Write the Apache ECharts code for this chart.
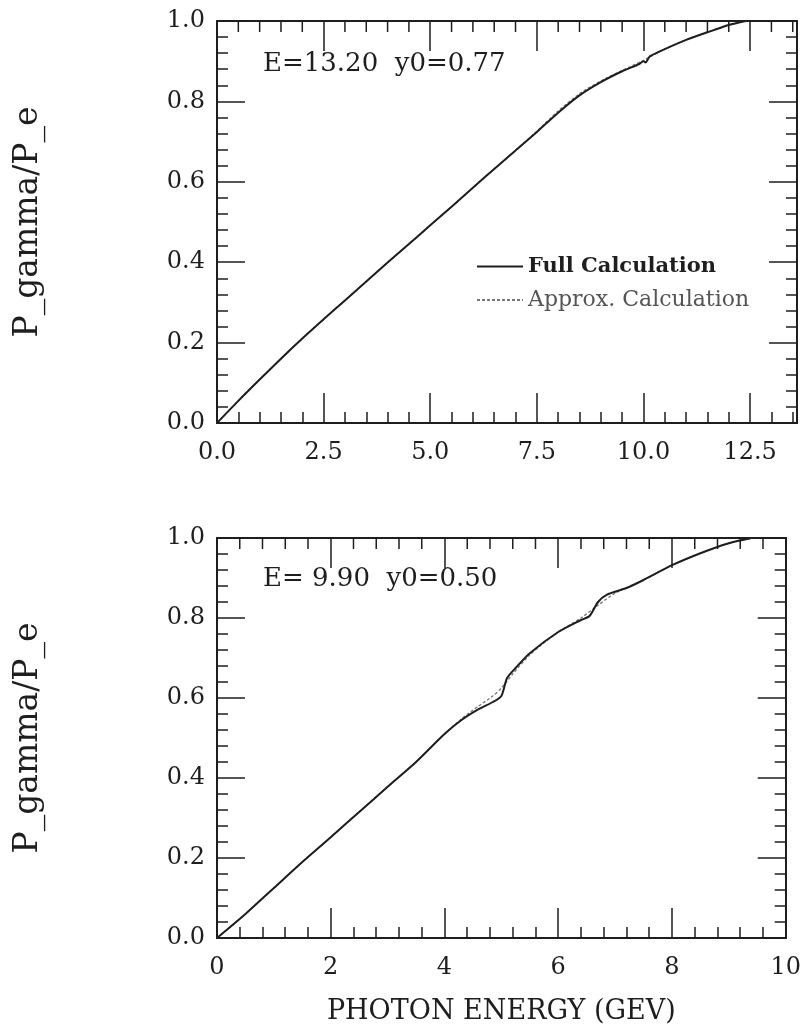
<!DOCTYPE html>
<html>
<head>
<meta charset="utf-8">
<title>P_gamma/P_e vs photon energy</title>
<script src="https://cdn.jsdelivr.net/npm/echarts@6/dist/echarts.min.js"></script>
<style>
    html, body { margin: 0; padding: 0; background: #ffffff; }
    #chart { width: 804px; height: 1030px; }
</style>
</head>
<body>
<div id="chart"></div>
<script>
// 上图: E=13.20, y0=0.77  [光子能量 GeV, P_gamma/P_e]
const topFull = [
    [0, 0], [0.5, 0.055], [1, 0.108], [1.5, 0.16], [2, 0.21], [2.5, 0.258],
    [3, 0.305], [3.5, 0.352], [4, 0.399], [4.5, 0.445], [5, 0.492], [5.5, 0.538],
    [6, 0.585], [6.5, 0.632], [7, 0.678], [7.5, 0.724], [8, 0.772], [8.5, 0.815],
    [9, 0.848], [9.5, 0.875], [9.9, 0.893], [10.0, 0.9], [10.05, 0.897],
    [10.15, 0.912], [10.5, 0.93], [11, 0.953], [11.5, 0.972], [12, 0.99], [12.4, 1.0]
];
const topApprox = [
    [0, 0], [0.5, 0.055], [1, 0.108], [1.5, 0.16], [2, 0.21], [2.5, 0.258],
    [3, 0.305], [3.5, 0.352], [4, 0.399], [4.5, 0.445], [5, 0.492], [5.5, 0.538],
    [6, 0.585], [6.5, 0.632], [7, 0.678], [7.5, 0.726], [8, 0.776], [8.5, 0.819],
    [9, 0.851], [9.5, 0.877], [10, 0.902], [10.5, 0.93], [11, 0.953],
    [11.5, 0.972], [12, 0.99], [12.4, 1.0]
];

// 下图: E=9.90, y0=0.50
const botFull = [
    [0, 0], [0.5, 0.06], [1, 0.125], [1.5, 0.19], [2, 0.252], [2.5, 0.315],
    [3, 0.378], [3.5, 0.44], [4, 0.51], [4.3, 0.545], [4.6, 0.572], [4.85, 0.59],
    [5.0, 0.605], [5.1, 0.65], [5.25, 0.675], [5.5, 0.712], [6, 0.765],
    [6.4, 0.795], [6.55, 0.805], [6.7, 0.84], [6.85, 0.858], [7.2, 0.875],
    [7.5, 0.895], [8, 0.932], [8.5, 0.962], [9, 0.987], [9.4, 1.0]
];
const botApprox = [
    [0, 0], [0.5, 0.06], [1, 0.125], [1.5, 0.19], [2, 0.252], [2.5, 0.315],
    [3, 0.378], [3.5, 0.44], [4, 0.51], [4.3, 0.548], [4.6, 0.58], [4.85, 0.605],
    [5.0, 0.625], [5.2, 0.66], [5.5, 0.708], [6, 0.765], [6.4, 0.8],
    [6.7, 0.832], [7.0, 0.862], [7.5, 0.895], [8, 0.932], [8.5, 0.962],
    [9, 0.987], [9.4, 1.0]
];

const topLabel = 'E=13.20  y0=0.77';
const botLabel = 'E= 9.90  y0=0.50';
const seriesNames = ['Full Calculation', 'Approx. Calculation'];
const yName = 'P_gamma/P_e';
const xName = 'PHOTON ENERGY (GEV)';

const FONT = 'DejaVu Serif';
const INK = '#1e1e1e';

function isMultiple(v, step) {
    const r = v / step;
    return Math.abs(r - Math.round(r)) < 1e-6;
}

// x轴刻度(刻度朝内), 标签只在 labelStep 的整数倍处显示
function xTicks(gridIndex, position, max, interval, tickLen, labelStep, digits) {
    return {
        type: 'value', gridIndex: gridIndex, position: position,
        min: 0, max: max, interval: interval,
        axisLine: { show: true, onZero: false, lineStyle: { color: INK, width: 2 } },
        axisTick: { show: true, inside: true, length: tickLen, lineStyle: { color: INK, width: 1.5 } },
        splitLine: { show: false },
        axisLabel: {
            show: true, margin: 18, color: INK, fontFamily: FONT, fontSize: 24,
            showMaxLabel: isMultiple(max, interval),
            formatter: v => (labelStep && isMultiple(v, labelStep)) ? v.toFixed(digits) : ''
        }
    };
}

function yAxisFor(gridIndex, position, labels) {
    return {
        type: 'value', gridIndex: gridIndex, position: position,
        min: 0, max: 1, interval: 0.2,
        name: labels ? yName : '',
        nameLocation: 'middle', nameGap: 172,
        nameTextStyle: { color: INK, fontFamily: FONT, fontSize: 33 },
        axisLine: { show: true, onZero: false, lineStyle: { color: INK, width: 2 } },
        axisTick: { show: true, inside: true, length: 28, lineStyle: { color: INK, width: 1.5 } },
        minorTick: { show: true, splitNumber: 5, length: 11, lineStyle: { color: INK, width: 1.5 } },
        splitLine: { show: false },
        axisLabel: {
            show: labels, margin: 12, color: INK, fontFamily: FONT, fontSize: 24,
            formatter: v => v.toFixed(1)
        }
    };
}

const botX = xTicks(1, 'bottom', 10, 2, 30, 2, 0);
botX.name = xName;
botX.nameLocation = 'middle';
botX.nameGap = 60;
botX.nameTextStyle = { color: INK, fontFamily: FONT, fontSize: 27 };

function fullSeries(x, y, data) {
    return {
        name: seriesNames[0], type: 'line', xAxisIndex: x, yAxisIndex: y,
        data: data, symbol: 'none', smooth: 0.25, z: 3,
        lineStyle: { color: INK, width: 2 }, itemStyle: { color: INK }
    };
}
function approxSeries(x, y, data) {
    return {
        name: seriesNames[1], type: 'line', xAxisIndex: x, yAxisIndex: y,
        data: data, symbol: 'none', smooth: 0.25, z: 2,
        lineStyle: { color: '#777777', width: 1.3, type: [3, 2] }, itemStyle: { color: '#777777' }
    };
}

const texts = [
    { type: 'text', left: 263, top: 51, style: { text: topLabel, fontFamily: FONT, fontSize: 26, fill: INK } },
    { type: 'text', left: 263, top: 566, style: { text: botLabel, fontFamily: FONT, fontSize: 26, fill: INK } }
];

const chart = echarts.init(document.getElementById('chart'), null, { renderer: 'canvas' });

chart.setOption({
    backgroundColor: '#ffffff',
    animation: false,
    grid: [
        { left: 217, top: 21, width: 580, height: 402 },
        { left: 217, top: 538, width: 577, height: 400 }
    ],
    xAxis: [
        xTicks(0, 'bottom', 13.6, 2.5, 30, 2.5, 1),  // 0
        xTicks(0, 'bottom', 13.6, 0.5, 11, 0, 0),    // 1
        xTicks(0, 'top', 13.6, 2.5, 30, 0, 0),       // 2
        botX,                                        // 3
        xTicks(1, 'bottom', 10, 0.4, 11, 0, 0),      // 4
        xTicks(1, 'top', 10, 2, 30, 0, 0)            // 5
    ],
    yAxis: [
        yAxisFor(0, 'left', true),
        yAxisFor(0, 'right', false),
        yAxisFor(1, 'left', true),
        yAxisFor(1, 'right', false)
    ],
    legend: {
        orient: 'vertical', left: 471, top: 251,
        itemWidth: 46, itemHeight: 14, itemGap: 12,
        itemStyle: { opacity: 0 },
        textStyle: { fontFamily: FONT, fontSize: 21, color: INK },
        data: [
            { name: seriesNames[0], textStyle: { fontWeight: 'bold', color: INK } },
            { name: seriesNames[1], textStyle: { color: '#555555', fontSize: 22 } }
        ]
    },
    graphic: texts,
    series: [
        approxSeries(0, 0, topApprox),
        fullSeries(0, 0, topFull),
        approxSeries(3, 2, botApprox),
        fullSeries(3, 2, botFull)
    ]
});

// 顶边次刻度: 通过系列坐标系换算位置 (y=1 即上框)
function topMinorLines(seriesIndex, step, count, majorStep) {
    const lines = [];
    for (let k = 1; k <= count; k++) {
        const v = k * step;
        if (isMultiple(v, majorStep)) continue;
        const p = chart.convertToPixel({ seriesIndex: seriesIndex }, [v, 1]);
        if (!p || !isFinite(p[0]) || !isFinite(p[1])) continue;
        lines.push({
            type: 'line', z: 100,
            shape: { x1: p[0], y1: p[1], x2: p[0], y2: p[1] + 11 },
            style: { stroke: INK, lineWidth: 1.5 }
        });
    }
    return lines;
}

chart.setOption({
    graphic: texts
        .concat(topMinorLines(1, 0.5, 27, 2.5))
        .concat(topMinorLines(3, 0.4, 24, 2))
});
</script>
</body>
</html>
